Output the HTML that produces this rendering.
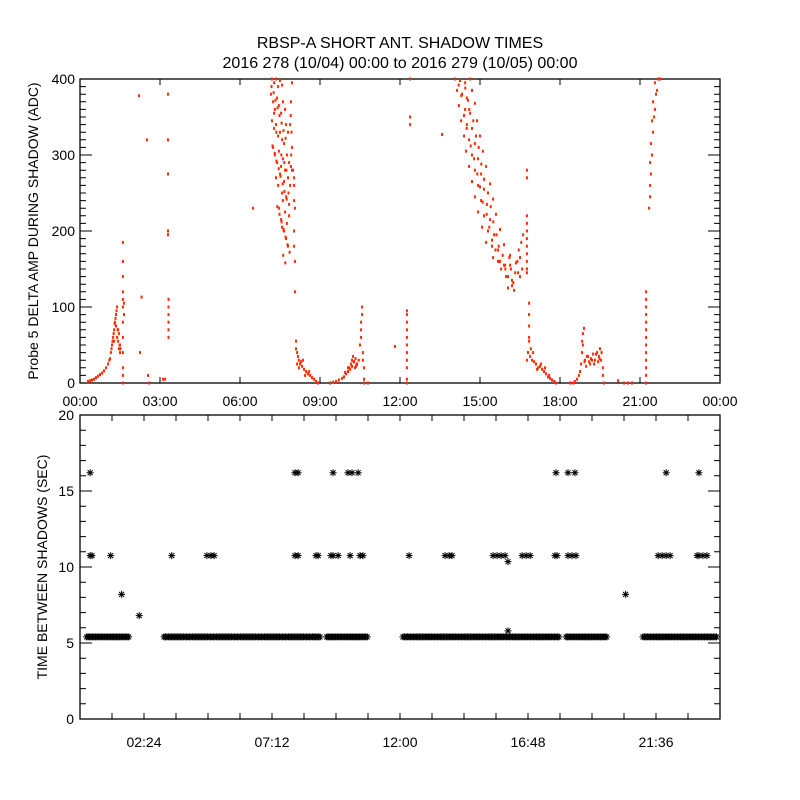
<!DOCTYPE html>
<html><head><meta charset="utf-8"><style>
html,body{margin:0;padding:0;background:#fff;}
svg{display:block;font-family:"Liberation Sans",sans-serif;}
</style></head><body>
<svg id="chart" width="800" height="800" viewBox="0 0 800 800">
<rect width="800" height="800" fill="#fff"/>
<text x="400" y="48" text-anchor="middle" font-size="16">RBSP-A SHORT ANT. SHADOW TIMES</text>
<text x="400" y="68" text-anchor="middle" font-size="16">2016 278 (10/04) 00:00 to 2016 279 (10/05) 00:00</text>
<g id="topPanel"></g>
<g id="botPanel"></g>
<text transform="translate(38,231) rotate(-90)" text-anchor="middle" font-size="14">Probe 5 DELTA AMP DURING SHADOW (ADC)</text>
<text transform="translate(47,567) rotate(-90)" text-anchor="middle" font-size="14">TIME BETWEEN SHADOWS (SEC)</text>
</svg>
<script>
// ---- top panel data (hour of day, ADC value) ----
const topHours = [
0.30,0.38,0.45,0.53,0.60,0.68,0.75,0.83,0.90,0.98,1.05,1.13,1.16,1.20,1.24,1.28,1.31,1.35,1.39,1.35,1.28,1.39,1.43,1.46,1.43,1.46,1.50,1.50,
1.61,1.61,1.61,1.61,1.61,1.61,1.61,1.61,1.61,1.61,1.61,1.61,1.65,1.65,
2.21,2.51,2.55,2.25,2.31,2.59,3.11,3.19,
3.30,3.30,3.30,3.30,3.30,3.32,3.32,3.32,3.32,3.32,3.32,6.49,
7.20,7.28,7.35,7.43,7.50,7.58,7.16,7.24,7.31,7.39,7.46,7.54,7.61,7.69,7.20,7.28,7.35,7.43,7.50,7.58,7.65,7.73,7.80,7.24,7.31,7.39,7.46,7.54,7.61,7.69,7.76,7.84,7.35,7.43,7.50,7.58,7.65,7.73,7.80,7.46,7.54,7.61,7.69,7.76,7.84,7.65,7.73,7.80,7.58,7.88,7.91,7.95,7.88,7.91,7.95,
7.99,8.03,8.03,8.03,8.06,8.03,8.03,8.06,8.06,
8.10,8.10,8.14,8.18,8.21,8.25,8.29,8.33,8.40,8.48,8.55,8.63,8.70,8.78,8.85,8.93,8.14,8.21,8.36,8.44,8.59,
9.38,9.49,9.60,9.71,9.83,9.90,9.98,10.05,10.13,10.16,10.20,10.24,10.28,10.31,10.35,10.20,10.39,10.50,10.54,10.54,10.54,10.58,10.58,10.61,10.61,10.65,10.65,10.65,10.05,9.94,10.80,11.81,
12.26,12.26,12.26,12.26,12.26,12.26,12.26,12.26,12.26,12.26,12.26,12.38,12.38,12.38,13.58,
14.06,14.25,14.44,14.63,14.14,14.33,14.51,14.70,14.21,14.44,14.63,14.81,14.29,14.51,14.70,14.89,14.40,14.59,14.81,15.00,14.48,14.70,14.93,15.11,14.59,14.81,15.04,15.23,14.70,14.93,15.15,15.38,14.81,15.04,15.26,15.49,14.93,15.15,15.38,15.60,15.08,15.30,15.53,15.75,15.23,15.45,15.68,15.90,16.13,15.49,15.71,15.94,16.16,16.35,15.79,15.98,16.20,16.43,16.05,16.28,16.50,16.58,15.75,16.13,16.50,
16.76,16.76,16.76,16.76,16.76,16.76,16.76,16.76,16.76,16.76,16.76,
16.76,16.80,16.84,16.88,16.95,17.03,17.10,17.18,17.25,17.33,17.40,17.48,17.55,17.63,17.70,17.78,17.85,16.91,16.99,17.14,17.29,17.44,17.59,16.84,16.84,16.84,16.84,
18.38,18.49,18.56,18.64,18.71,18.75,18.79,18.83,18.83,18.86,18.90,18.86,18.94,19.01,19.09,19.16,19.24,19.31,19.39,19.46,19.50,19.54,19.61,19.61,19.65,18.98,19.13,19.28,19.43,
20.18,20.40,20.55,20.70,
21.23,21.23,21.23,21.23,21.23,21.23,21.23,21.23,21.23,21.23,21.23,21.23,21.23,
21.34,21.38,21.38,21.41,21.38,21.45,21.41,21.49,21.45,21.53,21.56,21.49,21.60,21.64,21.56,21.68,21.75,
7.18,7.26,7.33,7.41,7.48,7.56,7.63,7.71,7.22,7.30,7.37,7.45,7.52,7.60,7.67,7.75,7.40,7.48,7.56,7.63,7.71,7.78,7.86,7.62,7.70,7.90,7.93,7.92,7.95,7.28,7.36,7.55,7.66,7.74,7.82,7.84,
14.20,14.45,14.55,14.30,14.60,14.40,14.75,14.50,14.85,14.65,14.95,14.78,15.05,14.90,15.15,15.00,15.30,15.10,15.40,15.25,15.50,15.35,15.62,15.45,15.70,15.58,15.85,15.68,15.95,16.05,16.25,16.32,16.40,16.10,16.20,15.90,16.45,16.55,16.62,
1.10,1.18,1.22,1.26,1.30,1.33,1.37,1.41,1.48,1.52,10.10,10.26,10.33,10.37,10.45,18.92,19.05,19.20,19.35,19.48,19.56
];
const topValues = [
2,3,4,5,7,9,11,13,16,20,25,32,40,50,60,70,80,90,100,75,55,60,55,45,70,65,50,40,
0,10,20,40,60,80,100,110,120,140,160,185,90,105,
378,320,10,40,113,0,5,5,
380,320,275,200,195,110,100,90,80,70,60,230,
400,395,400,390,398,392,380,370,360,375,365,355,370,360,345,335,340,325,330,320,315,340,330,310,300,290,305,285,295,280,300,290,270,260,275,250,265,245,270,230,215,240,225,210,235,200,190,180,205,260,285,310,340,370,395,
280,270,260,240,230,200,180,160,120,
55,45,40,35,30,25,28,22,18,15,12,10,7,5,2,0,25,20,30,10,15,
0,1,2,4,6,8,12,15,18,25,30,35,28,20,22,22,25,50,60,70,80,90,100,40,30,20,5,0,20,14,0,48,
0,5,20,30,40,50,60,70,80,90,95,400,350,340,327,
400,398,395,400,385,380,375,385,365,360,355,368,345,340,335,345,325,320,315,325,305,300,295,305,285,280,275,285,265,260,255,262,245,240,235,242,225,220,215,222,205,200,195,202,185,180,175,182,168,165,160,155,150,158,150,140,135,145,125,122,140,150,160,155,165,
280,270,220,210,200,190,180,170,160,150,145,
30,40,55,35,30,28,25,20,22,18,15,12,8,6,4,2,0,45,40,18,25,20,10,105,90,75,60,
0,0,2,5,10,15,25,40,55,65,72,50,30,35,28,32,38,30,40,35,45,30,20,10,0,22,25,25,28,
3,0,0,0,
0,10,20,30,40,50,60,70,80,90,100,110,120,
230,245,260,275,290,300,315,330,345,350,360,370,380,385,395,400,400,
390,382,372,362,352,342,332,322,312,302,292,282,272,262,252,242,232,222,212,202,192,182,172,168,158,352,330,300,280,355,330,300,290,280,250,220,
392,388,372,378,360,352,345,335,325,312,310,295,288,275,268,258,250,238,232,222,212,205,195,188,180,175,168,160,150,140,132,145,160,165,128,155,175,185,195,
30,45,55,65,78,85,95,70,50,45,20,28,32,24,30,28,35,30,38,32,40
];
// ---- bottom panel data ----
const bandStartHours = [0.25, 3.15, 9.25, 12.11, 18.23, 21.11];
const bandEndHours   = [1.84, 9.00, 10.80, 17.96, 19.76, 24.00];
const bandValue = 5.4;
const starHours = [0.38,0.38,0.45,1.15,1.56,2.22,3.44,4.76,4.91,5.03,8.06,8.18,8.06,8.18,8.85,8.93,9.49,9.41,9.49,9.68,10.05,10.20,10.43,10.13,10.50,10.61,
12.34,13.69,13.84,13.95,15.49,15.64,15.79,15.94,16.05,16.05,16.58,16.73,16.88,17.81,17.89,17.85,18.30,18.45,18.60,18.30,18.56,20.46,21.68,21.83,21.98,22.13,21.98,23.14,23.21,23.36,23.51,23.21];
const starValues = [16.2,10.75,10.75,10.75,8.2,6.8,10.75,10.75,10.75,10.75,16.2,16.2,10.75,10.75,10.75,10.75,16.2,10.75,10.75,10.75,16.2,16.2,16.2,10.75,10.75,10.75,
10.75,10.75,10.75,10.75,10.75,10.75,10.75,10.75,10.35,5.8,10.75,10.75,10.75,10.75,10.75,16.2,10.75,10.75,10.75,16.2,16.2,8.2,10.75,10.75,10.75,10.75,16.2,10.75,16.2,10.75,10.75,10.75];
const topYTicks = [0,100,200,300,400];
const topXLabels = ["00:00","03:00","06:00","09:00","12:00","15:00","18:00","21:00","00:00"];
const botYTicks = [0,5,10,15,20];
const botXLabels = ["02:24","07:12","12:00","16:48","21:36"];

const NS = "http://www.w3.org/2000/svg";
function mk(tag, attrs, parent){const e=document.createElementNS(NS,tag);for(const k in attrs)e.setAttribute(k,attrs[k]);parent.appendChild(e);return e;}
const L=80,R=720;
const xH = h => L + (R-L)*h/24;
const T1=79,B1=383, yTop = v => B1 - (B1-T1)*v/400;
const T2=415,B2=719, yBot = v => B2 - (B2-T2)*v/20;
const topG=document.getElementById('topPanel'), botG=document.getElementById('botPanel');

let f=mk('rect',{x:L,y:T1,width:R-L,height:B1-T1,fill:'none',stroke:'#000','stroke-width':1.3},topG);


let d='';
for(let v=0;v<=400;v+=10){const y=yTop(v);const len=(v%100===0)?12:6;d+=`M${L},${y}h${len}M${R},${y}h${-len}`;}
for(let i=0;i<=8;i++){const x=xH(i*3);d+=`M${x},${B1}v-6M${x},${T1}v6`;}
let tk=mk('path',{d:d,stroke:'#000','stroke-width':1,fill:'none'},topG);


topYTicks.forEach(v=>{const t=mk('text',{x:L-5,y:yTop(v)+5,'text-anchor':'end','font-size':14},topG);t.textContent=v;

});
topXLabels.forEach((s,i)=>{const t=mk('text',{x:xH(i*3),y:406,'text-anchor':'middle','font-size':14},topG);t.textContent=s;

});
const pts=mk('g',{fill:'#ff2a00'},topG);


const nTop=Math.min(topHours.length,topValues.length);
for(let i=0;i<nTop;i++){
  const r=mk('rect',{x:(xH(topHours[i])-1).toFixed(1),y:(yTop(topValues[i])-1.5).toFixed(1),width:2,height:3},pts);
  
  
}

f=mk('rect',{x:L,y:T2,width:R-L,height:B2-T2,fill:'none',stroke:'#000','stroke-width':1.3},botG);


d='';
for(let v=0;v<=20;v++){const y=yBot(v);const len=(v%5===0)?12:6;d+=`M${L},${y}h${len}M${R},${y}h${-len}`;}
for(let i=1;i<20;i++){const x=xH(i*1.2);d+=`M${x},${B2}v-6M${x},${T2}v6`;}
tk=mk('path',{d:d,stroke:'#000','stroke-width':1,fill:'none'},botG);


botYTicks.forEach(v=>{const t=mk('text',{x:L-6,y:yBot(v)+5,'text-anchor':'end','font-size':14},botG);t.textContent=v;

});
botXLabels.forEach((s,i)=>{const t=mk('text',{x:xH((i*2+1)*2.4),y:747,'text-anchor':'middle','font-size':14},botG);t.textContent=s;

});
function star(x,y){return `M${x-3.5},${y}h7M${x},${y-3.5}v7M${x-2.5},${y-2.5}l5,5M${x-2.5},${y+2.5}l5,-5`;}
let sd='';
for(let b=0;b<bandStartHours.length;b++){
  const x0=xH(bandStartHours[b]),x1=Math.min(xH(bandEndHours[b]),R-3),y=yBot(bandValue);
  for(let x=x0;x<=x1;x+=1.5)sd+=star(x,y);
}
let band=mk('path',{d:sd,stroke:'#000','stroke-width':1,fill:'none'},botG);


const sg=mk('g',{stroke:'#000','stroke-width':1,fill:'none'},botG);


const nStar=Math.min(starHours.length,starValues.length);
for(let i=0;i<nStar;i++){
  const p=mk('path',{d:star(xH(starHours[i]),yBot(starValues[i]))},sg);
  
  
}
</script>
</body></html>
